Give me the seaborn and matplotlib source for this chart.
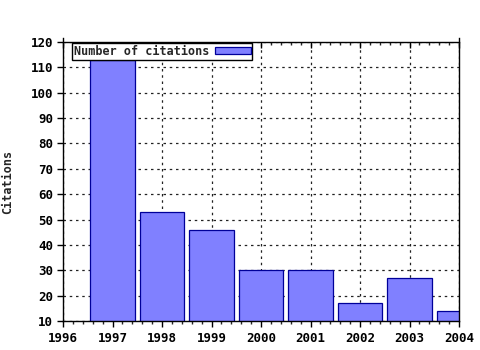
import matplotlib
matplotlib.use("Agg")
import matplotlib.pyplot as plt
import seaborn as sns
import pandas as pd
from matplotlib.ticker import MultipleLocator

years = [1997, 1998, 1999, 2000, 2001, 2002, 2003, 2004]
citations = [113, 53, 46, 30, 30, 17, 27, 14]
series_label = "Number of citations"
y_label = "Citations"

df = pd.DataFrame({"year": years, "citations": citations})

sns.set_theme(style="white")
plt.rcParams['font.family'] = ['DejaVu Sans Mono']
plt.rcParams['font.weight'] = 'bold'

fig = plt.figure(figsize=(4.8, 3.5), dpi=100)
ax = fig.add_axes([63/480, 1-321/350, (459-63)/480, (321-42)/350])

sns.barplot(data=df, x="year", y="citations", native_scale=True, width=0.9,
            color="#8080ff", saturation=1, edgecolor="#000099", linewidth=0.9,
            label=series_label, ax=ax)

ax.set_xlim(1996, 2004)
ax.set_ylim(10, 120)
ax.xaxis.set_major_locator(MultipleLocator(1))
ax.xaxis.set_minor_locator(MultipleLocator(0.2))
ax.yaxis.set_major_locator(MultipleLocator(10))
ax.grid(True, which='major', color='#222222', linestyle=(0, (2, 3)), linewidth=0.9)
ax.set_axisbelow(True)
for s in ax.spines.values():
    s.set_color('black')
    s.set_linewidth(1.0)
ax.spines['left'].set_bounds(10, 121.5)
ax.spines['right'].set_bounds(10, 121.5)
ax.spines['left'].set_zorder(5)
ax.spines['right'].set_zorder(5)

ax.tick_params(axis='y', which='major', direction='out', length=4, width=1,
               colors='black', labelsize=9, left=True, right=False, pad=3)
ax.tick_params(axis='x', which='major', direction='out', length=4, width=1,
               colors='black', labelsize=9, top=True, bottom=True, pad=4)
ax.tick_params(axis='x', which='minor', direction='out', length=2, width=1,
               top=True, bottom=True)
ax.set_xlabel("")
ax.set_ylabel(y_label, fontsize=8.5, fontweight='bold')
ax.yaxis.set_label_coords((14 - 63) / 396, 0.5)
ax.set_xticks(range(1996, 2005))
ax.set_xticklabels([str(y) for y in range(1996, 2005)])
for lab in ax.get_xticklabels() + ax.get_yticklabels():
    lab.set_fontweight('bold')
# top ticks point into the axes
for t in ax.xaxis.get_major_ticks() + ax.xaxis.get_minor_ticks():
    t.tick2line.set_marker(matplotlib.lines.TICKDOWN)

leg = ax.legend(loc='upper left', bbox_to_anchor=(8/396, 1.0), markerfirst=False,
                frameon=True, fancybox=False, borderpad=0.15, handlelength=3.0,
                handleheight=0.55, handletextpad=0.5,
                prop={'size': 8.5, 'weight': 'bold', 'family': 'DejaVu Sans Mono'},
                borderaxespad=0.1)
leg.get_frame().set_edgecolor('black')
leg.get_frame().set_linewidth(1.0)
leg.get_frame().set_alpha(1)

fig.savefig("out.png", dpi=100, facecolor='white')
